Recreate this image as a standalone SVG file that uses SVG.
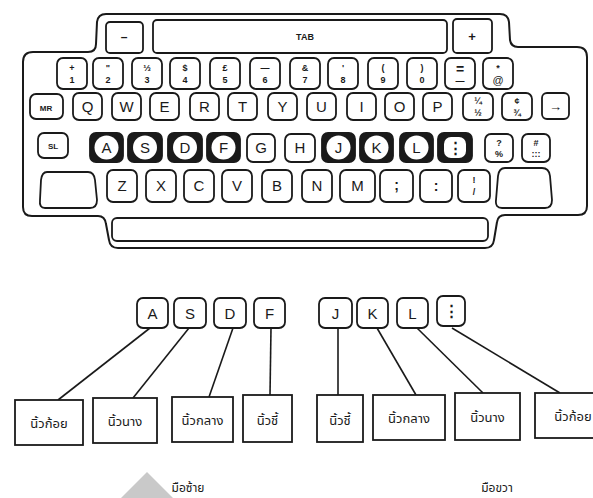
<svg xmlns="http://www.w3.org/2000/svg" width="593" height="498" viewBox="0 0 593 498">
<style>
.k{fill:#fff;stroke:#1a1a1a;stroke-width:1.8}
.kd{fill:#1a1a1a;stroke:#1a1a1a;stroke-width:1.8}
.ol{fill:none;stroke:#1a1a1a;stroke-width:2}
.t{font-family:"Liberation Sans",Arial,sans-serif;fill:#1a1a1a;text-anchor:middle}
.L{font-size:15px}
.s{font-size:9px;font-weight:bold}
.b{fill:#fff;stroke:#1a1a1a;stroke-width:1.8}
.th{font-family:"Noto Sans Thai","Noto Sans","DejaVu Sans",sans-serif;font-size:13px;fill:#1a1a1a;text-anchor:middle}
.c{stroke:#1a1a1a;stroke-width:1.6;fill:none}
</style>
<rect width="593" height="498" fill="#fff"/>
<polygon points="147,472 121,498 173,498" fill="#c9c9c9"/>
<g id="keyboard">
<path class="ol" d="M88,52 Q96,52 96,44 L97,22 Q98,14 106,14 L500,14 Q508,14 509,22 L510,40 Q511,47 518,47 L577,47 Q587,47 587,57 L587,206 Q587,215 578,215 L505,215 Q498,215 497,222 L494,240 Q493,248 485,248 L118,248 Q110,248 109,240 L106,224 Q105,216 98,216 L32,216 Q23,216 23,207 L23,62 Q23,52 33,52 Z"/>
<rect class="k" x="112" y="218" width="376" height="23" rx="5"/>
</g>
<g id="row1">
<rect class="k" x="106" y="22" width="37" height="31" rx="4"/><text class="t" x="124" y="41" style="font-size:12px;font-weight:bold">–</text>
<rect class="k" x="153" y="20" width="294" height="33" rx="4"/><text class="t s" x="305" y="40">TAB</text>
<rect class="k" x="453" y="19" width="39" height="34" rx="4"/><text class="t" x="472" y="41" style="font-size:13px;font-weight:bold">+</text>
</g>
<g id="row2">
<rect class="k" x="57" y="58" width="30" height="31" rx="6"/><text class="t s" x="72" y="71">+</text><text class="t s" x="72" y="83">1</text>
<rect class="k" x="93" y="58" width="30" height="31" rx="6"/><text class="t s" x="108" y="71">"</text><text class="t s" x="108" y="83">2</text>
<rect class="k" x="132" y="58" width="30" height="31" rx="6"/><text class="t s" x="147" y="71">⅓</text><text class="t s" x="147" y="83">3</text>
<rect class="k" x="170" y="58" width="30" height="31" rx="6"/><text class="t s" x="185" y="71">$</text><text class="t s" x="185" y="83">4</text>
<rect class="k" x="210" y="58" width="30" height="31" rx="6"/><text class="t s" x="225" y="71">£</text><text class="t s" x="225" y="83">5</text>
<rect class="k" x="250" y="58" width="30" height="31" rx="6"/><text class="t s" x="265" y="71">—</text><text class="t s" x="265" y="83">6</text>
<rect class="k" x="290" y="58" width="30" height="31" rx="6"/><text class="t s" x="305" y="71">&amp;</text><text class="t s" x="305" y="83">7</text>
<rect class="k" x="328" y="58" width="30" height="31" rx="6"/><text class="t s" x="343" y="71">'</text><text class="t s" x="343" y="83">8</text>
<rect class="k" x="368" y="58" width="30" height="31" rx="6"/><text class="t s" x="383" y="71">(</text><text class="t s" x="383" y="83">9</text>
<rect class="k" x="407" y="58" width="30" height="31" rx="6"/><text class="t s" x="422" y="71">)</text><text class="t s" x="422" y="83">0</text>
<rect class="k" x="445" y="58" width="30" height="31" rx="6"/><text class="t" x="460" y="74" style="font-size:14px;font-weight:bold">=</text><text class="t s" x="460" y="84">—</text>
<rect class="k" x="483" y="58" width="30" height="31" rx="6"/><text class="t s" x="498" y="71">*</text><text class="t" x="498" y="84" style="font-size:11px">@</text>
</g>
<g id="row3">
<rect class="k" x="30" y="94" width="33" height="25" rx="6"/><text class="t" x="46" y="111" style="font-size:8px;font-weight:bold">MR</text>
<rect class="k" x="73" y="93" width="29" height="27" rx="6"/><text class="t L" x="87.5" y="112">Q</text>
<rect class="k" x="112" y="93" width="29" height="27" rx="6"/><text class="t L" x="126.5" y="112">W</text>
<rect class="k" x="150" y="93" width="29" height="27" rx="6"/><text class="t L" x="164.5" y="112">E</text>
<rect class="k" x="190" y="93" width="29" height="27" rx="6"/><text class="t L" x="204.5" y="112">R</text>
<rect class="k" x="228" y="93" width="29" height="27" rx="6"/><text class="t L" x="242.5" y="112">T</text>
<rect class="k" x="268" y="93" width="29" height="27" rx="6"/><text class="t L" x="282.5" y="112">Y</text>
<rect class="k" x="307" y="93" width="29" height="27" rx="6"/><text class="t L" x="321.5" y="112">U</text>
<rect class="k" x="347" y="93" width="29" height="27" rx="6"/><text class="t L" x="361.5" y="112">I</text>
<rect class="k" x="385" y="93" width="29" height="27" rx="6"/><text class="t L" x="399.5" y="112">O</text>
<rect class="k" x="423" y="93" width="29" height="27" rx="6"/><text class="t L" x="437.5" y="112">P</text>
<rect class="k" x="463" y="93" width="30" height="27" rx="6"/><text class="t s" x="478" y="104">¼</text><text class="t s" x="478" y="116">½</text>
<rect class="k" x="502" y="93" width="30" height="27" rx="6"/><text class="t s" x="517" y="104">¢</text><text class="t s" x="517" y="116">¾</text>
<rect class="k" x="542" y="93" width="27" height="26" rx="5"/><text class="t" x="555.5" y="111" style="font-size:13px;font-weight:bold">→</text>
</g>
<g id="row4">
<rect class="k" x="38" y="133" width="30" height="25" rx="6"/><text class="t" x="53" y="149" style="font-size:8px;font-weight:bold">SL</text>
<rect class="kd" x="90" y="133" width="33" height="29" rx="6"/><circle cx="106.5" cy="147.5" r="12" fill="#fff"/><text class="t L" x="106.5" y="153">A</text>
<rect class="kd" x="128" y="133" width="34" height="29" rx="6"/><circle cx="145" cy="147.5" r="12" fill="#fff"/><text class="t L" x="145" y="153">S</text>
<rect class="kd" x="168" y="133" width="34" height="29" rx="6"/><circle cx="185" cy="147.5" r="12" fill="#fff"/><text class="t L" x="185" y="153">D</text>
<rect class="kd" x="207" y="133" width="33" height="29" rx="6"/><circle cx="223.5" cy="147.5" r="12" fill="#fff"/><text class="t L" x="223.5" y="153">F</text>
<rect class="k" x="247" y="134" width="28" height="28" rx="6"/><text class="t L" x="261" y="153">G</text>
<rect class="k" x="285" y="134" width="30" height="28" rx="6"/><text class="t L" x="300" y="153">H</text>
<rect class="kd" x="322" y="133" width="33" height="29" rx="6"/><circle cx="338.5" cy="147.5" r="12" fill="#fff"/><text class="t L" x="338.5" y="153">J</text>
<rect class="kd" x="360" y="133" width="33" height="29" rx="6"/><circle cx="376.5" cy="147.5" r="12" fill="#fff"/><text class="t L" x="376.5" y="153">K</text>
<rect class="kd" x="400" y="133" width="33" height="29" rx="6"/><circle cx="416.5" cy="147.5" r="12" fill="#fff"/><text class="t L" x="416.5" y="153">L</text>
<rect class="kd" x="438" y="133" width="34" height="29" rx="6"/><rect x="444" y="137" width="22" height="21" rx="7" fill="#fff"/><text class="t" x="455" y="153" style="font-size:15px;font-weight:bold">⋮</text>
<rect class="k" x="485" y="134" width="28" height="28" rx="6"/><text class="t s" x="499" y="146">?</text><text class="t s" x="499" y="157">%</text>
<rect class="k" x="522" y="134" width="28" height="28" rx="6"/><text class="t s" x="536" y="146">#</text><text class="t s" x="536" y="157">:::</text>
</g>
<g id="row5">
<path class="k" d="M47,172 L88,172 Q94,172 95,180 L97,200 Q97,208 90,208 L45,208 Q39,208 40,200 L41,180 Q42,172 47,172 Z"/>
<rect class="k" x="107" y="170" width="30" height="32" rx="6"/><text class="t L" x="122" y="191">Z</text>
<rect class="k" x="146" y="170" width="30" height="32" rx="6"/><text class="t L" x="161" y="191">X</text>
<rect class="k" x="184" y="170" width="30" height="32" rx="6"/><text class="t L" x="199" y="191">C</text>
<rect class="k" x="222" y="170" width="30" height="32" rx="6"/><text class="t L" x="237" y="191">V</text>
<rect class="k" x="262" y="170" width="30" height="32" rx="6"/><text class="t L" x="277" y="191">B</text>
<rect class="k" x="302" y="170" width="30" height="32" rx="6"/><text class="t L" x="317" y="191">N</text>
<rect class="k" x="340" y="170" width="35" height="32" rx="6"/><text class="t L" x="357.5" y="191">M</text>
<rect class="k" x="380" y="170" width="33" height="32" rx="6"/><text class="t" x="396.5" y="190" style="font-size:14px;font-weight:bold">;</text>
<rect class="k" x="420" y="170" width="32" height="32" rx="6"/><text class="t" x="436" y="191" style="font-size:14px;font-weight:bold">:</text>
<rect class="k" x="458" y="170" width="32" height="32" rx="6"/><text class="t s" x="474" y="183">!</text><text class="t s" x="474" y="195">/</text>
<path class="k" d="M505,168 L542,168 Q549,168 550,176 L552,200 Q552,208 545,208 L502,208 Q495,208 496,200 L498,176 Q499,168 505,168 Z"/>
</g>
<g id="connectors">
<line class="c" x1="150" y1="328" x2="58" y2="400"/>
<line class="c" x1="189" y1="328" x2="133" y2="398"/>
<line class="c" x1="233" y1="328" x2="209" y2="397"/>
<line class="c" x1="271" y1="328" x2="270" y2="395"/>
<line class="c" x1="338" y1="328" x2="338" y2="395"/>
<line class="c" x1="377" y1="328" x2="416" y2="395"/>
<line class="c" x1="417" y1="328" x2="483" y2="393"/>
<line class="c" x1="452" y1="328" x2="560" y2="393"/>
</g>
<g id="key-A"><rect class="k" x="137" y="298" width="31" height="30" rx="6"/><text class="t L" x="152.5" y="319">A</text></g>
<g id="key-S"><rect class="k" x="174" y="298" width="32" height="30" rx="6"/><text class="t L" x="190" y="319">S</text></g>
<g id="key-D"><rect class="k" x="214" y="298" width="32" height="30" rx="6"/><text class="t L" x="230" y="319">D</text></g>
<g id="key-F"><rect class="k" x="254" y="298" width="31" height="30" rx="6"/><text class="t L" x="269.5" y="319">F</text></g>
<g id="key-J"><rect class="k" x="319" y="298" width="33" height="30" rx="6"/><text class="t L" x="335.5" y="319">J</text></g>
<g id="key-K"><rect class="k" x="357" y="298" width="31" height="30" rx="6"/><text class="t L" x="372.5" y="319">K</text></g>
<g id="key-L"><rect class="k" x="397" y="298" width="31" height="30" rx="6"/><text class="t L" x="412.5" y="319">L</text></g>
<g id="key-semi"><rect class="k" x="437" y="296" width="28" height="30" rx="6"/><text class="t" x="451" y="316" style="font-size:15px;font-weight:bold">⋮</text></g>
<g id="box-l1"><rect class="b" x="15" y="400" width="68" height="45"/><text class="th" x="49" y="428">นิ้วก้อย</text></g>
<g id="box-l2"><rect class="b" x="93" y="398" width="64" height="45"/><text class="th" x="125" y="426">นิ้วนาง</text></g>
<g id="box-l3"><rect class="b" x="172" y="397" width="61" height="45"/><text class="th" x="202.5" y="425">นิ้วกลาง</text></g>
<g id="box-l4"><rect class="b" x="243" y="395" width="49" height="47"/><text class="th" x="267.5" y="425">นิ้วชี้</text></g>
<g id="box-r4"><rect class="b" x="317" y="395" width="46" height="47"/><text class="th" x="340" y="425">นิ้วชี้</text></g>
<g id="box-r3"><rect class="b" x="373" y="395" width="72" height="45"/><text class="th" x="409" y="423">นิ้วกลาง</text></g>
<g id="box-r2"><rect class="b" x="455" y="393" width="65" height="47"/><text class="th" x="487.5" y="422">นิ้วนาง</text></g>
<g id="box-r1"><rect class="b" x="535" y="393" width="65" height="45"/><text class="th" x="573" y="421">นิ้วก้อย</text></g>
<text class="th" x="188" y="492" style="font-size:12px">มือซ้าย</text>
<text class="th" x="497" y="492" style="font-size:12px">มือขวา</text>
</svg>
